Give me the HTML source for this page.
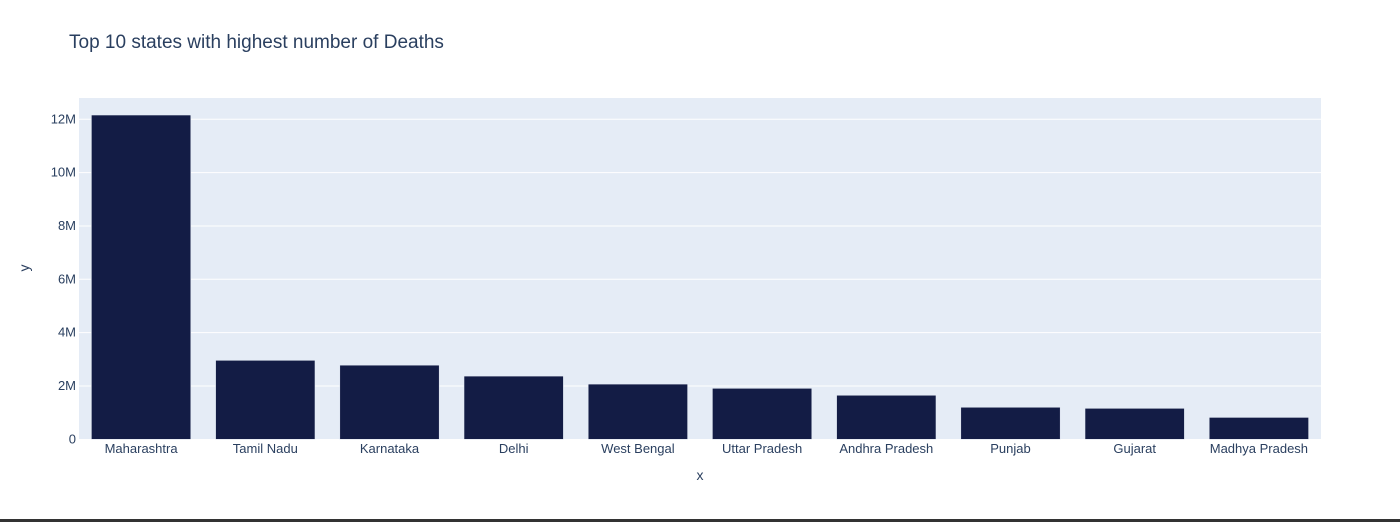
<!DOCTYPE html>
<html><head><meta charset="utf-8"><style>
body{margin:0;background:#fff;width:1400px;height:522px;overflow:hidden;font-family:"Liberation Sans",sans-serif}
</style></head><body>
<svg width="1400" height="522" id="svg">
<rect x="0" y="0" width="1400" height="522" fill="#fff"/>
<text x="69" y="48" font-size="19" fill="#2a3f5f">Top 10 states with highest number of Deaths</text>
<rect x="79" y="98" width="1242" height="341" fill="#e5ecf6"/>
<g id="grid"></g><g id="bars"></g><g id="labels"></g>
<text x="700" y="480" font-size="14" fill="#2a3f5f" text-anchor="middle">x</text>
<text x="29" y="268" font-size="14" fill="#2a3f5f" text-anchor="middle" transform="rotate(-90 29 268)">y</text>
<rect x="0" y="519" width="1400" height="3" fill="#333"/>
</svg>
<script>
const categories=["Maharashtra","Tamil Nadu","Karnataka","Delhi","West Bengal","Uttar Pradesh","Andhra Pradesh","Punjab","Gujarat","Madhya Pradesh"];
const values=[12.16e6,2.96e6,2.78e6,2.37e6,2.07e6,1.91e6,1.65e6,1.2e6,1.16e6,0.82e6];
const yTicks=[0,2e6,4e6,6e6,8e6,10e6,12e6];
const yTickLabels=["0","2M","4M","6M","8M","10M","12M"];
const NS="http://www.w3.org/2000/svg";
const X0=79,W=1242,Y0=439.3,PX=320/12e6;
const y=v=>Y0-v*PX;
const band=W/categories.length;
const xc=i=>X0+band*(i+0.5);
function mk(t,a,p){const e=document.createElementNS(NS,t);for(const k in a)e.setAttribute(k,a[k]);p.appendChild(e);return e;}
const grid=document.getElementById('grid'),bars=document.getElementById('bars'),labels=document.getElementById('labels');
yTicks.forEach((v,i)=>{
 if(v>0){const l=mk('line',{x1:X0,x2:X0+W,y1:y(v),y2:y(v),stroke:'#fff','stroke-width':1},grid);
 
 }
 const t=mk('text',{x:X0-3,y:y(v)+4,'font-size':13,fill:'#2a3f5f','text-anchor':'end'},labels);
 t.textContent=yTickLabels[i];
 
 
});
categories.forEach((c,i)=>{
 const bw=band*0.8;
 const r=mk('rect',{x:xc(i)-bw/2,y:y(values[i]),width:bw,height:Y0-y(values[i]),fill:'#131c45',stroke:'#e5ecf6','stroke-width':0.5},bars);
 
 
 const t=mk('text',{x:xc(i),y:453,'font-size':13,fill:'#2a3f5f','text-anchor':'middle'},labels);
 t.textContent=c;
 
 
});
</script>
</body></html>
